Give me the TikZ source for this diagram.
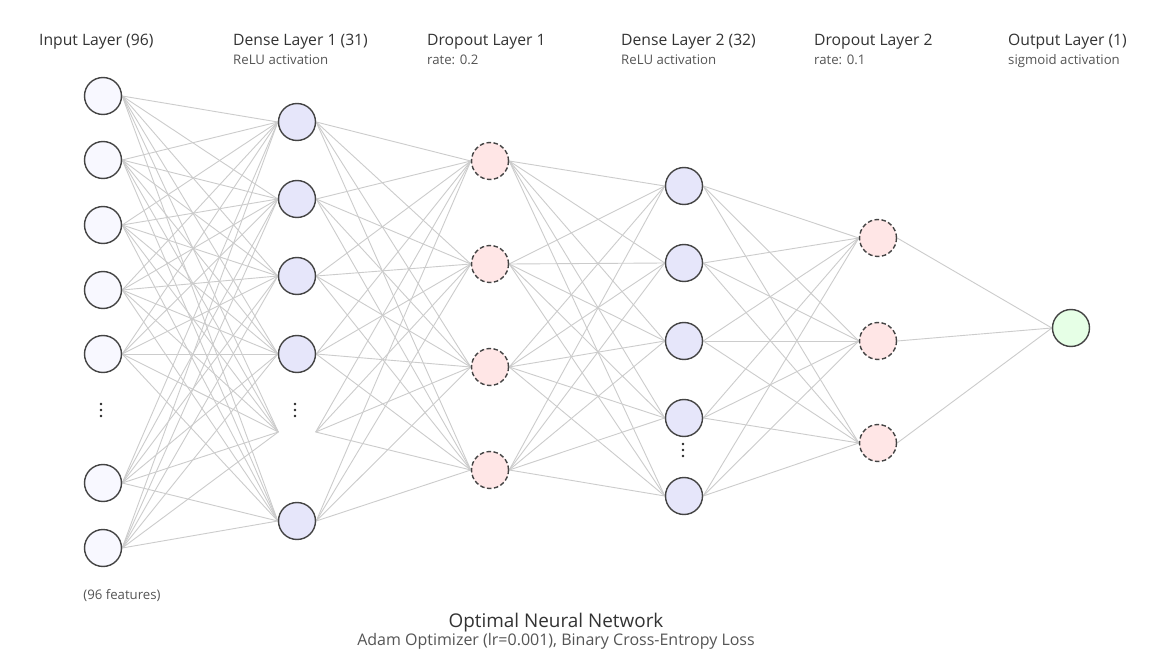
\documentclass[tikz,border=0pt]{standalone}
\usepackage{fontspec}
\setmainfont{Open Sans}
\usetikzlibrary{backgrounds}
\definecolor{edgegray}{HTML}{CCCCCC}
\definecolor{strokegray}{HTML}{444444}
\definecolor{infill}{HTML}{F8F8FF}
\definecolor{densefill}{HTML}{E6E6FA}
\definecolor{dropfill}{HTML}{FFE6E6}
\definecolor{outfill}{HTML}{E6FFE6}
\definecolor{titlecol}{HTML}{333333}
\definecolor{subcol}{HTML}{555555}
\begin{document}
\begin{tikzpicture}[x=1pt,y=-1pt,
  neuron/.style={circle, minimum size=37pt, inner sep=0pt, draw=strokegray, line width=1.4pt},
  innode/.style={fill=infill},
  densenode/.style={fill=densefill},
  dropnode/.style={fill=dropfill, dash pattern=on 4.5pt off 2.5pt},
  outnode/.style={fill=outfill},
  hiddennode/.style={circle, minimum size=37pt, inner sep=0pt},
  edge/.style={draw=edgegray, line width=0.9pt},
  ltitle/.style={anchor=base west, inner sep=0pt, text=titlecol, font=\fontsize{15.7}{18}\selectfont},
  lsub/.style={anchor=base west, inner sep=0pt, text=subcol, font=\fontsize{13.2}{15}\selectfont},
  dotmark/.style={fill=black!85}
]
\useasboundingbox (0,0) rectangle (1170,668);

% input layer
\foreach \y [count=\k] in {96,160,225,290,354,483,548}
  \node[neuron,innode] (i\k) at (103,\y) {};
% dense layer 1 (node 5 is hidden behind the ellipsis)
\foreach \y [count=\k] in {122,199,276,354}
  \node[neuron,densenode] (d\k) at (297,\y) {};
\node[hiddennode] (d5) at (297,432) {};
\node[neuron,densenode] (d6) at (297,521) {};
% dropout layer 1
\foreach \y [count=\k] in {161,264,367,470}
  \node[neuron,dropnode] (p\k) at (490,\y) {};
% dense layer 2
\foreach \y [count=\k] in {186,263,341,418,496}
  \node[neuron,densenode] (e\k) at (684,\y) {};
% dropout layer 2
\foreach \y [count=\k] in {238,341,443}
  \node[neuron,dropnode] (q\k) at (878,\y) {};
% output
\node[neuron,outnode] (o1) at (1071,328) {};

% ellipses
\foreach \x/\y in {101/410, 295/410, 683/450}{
  \fill[dotmark] (\x,\y-6) circle (1.4pt);
  \fill[dotmark] (\x,\y) circle (1.4pt);
  \fill[dotmark] (\x,\y+6) circle (1.4pt);
}

% connections
\begin{scope}[on background layer]
  \fill[white] (0,0) rectangle (1170,668);
  \foreach \a in {1,...,7} \foreach \b in {1,...,6} \draw[edge] (i\a.east) -- (d\b.west);
  \foreach \a in {1,...,6} \foreach \b in {1,...,4} \draw[edge] (d\a.east) -- (p\b.west);
  \foreach \a in {1,...,4} \foreach \b in {1,...,5} \draw[edge] (p\a.east) -- (e\b.west);
  \foreach \a in {1,...,5} \foreach \b in {1,...,3} \draw[edge] (e\a.east) -- (q\b.west);
  \foreach \a in {1,...,3} \draw[edge] (q\a.east) -- (o1.west);
\end{scope}

% layer labels
\node[ltitle] (t1) at (39,46) {Input Layer (96)};
\node[ltitle] (t2) at (233,46) {Dense Layer 1 (31)};
\node[lsub] (s2) at (233,65) {ReLU activation};
\node[ltitle] (t3) at (427,46) {Dropout Layer 1};
\node[lsub] (s3) at (427,65) {rate: 0.2};
\node[ltitle] (t4) at (621,46) {Dense Layer 2 (32)};
\node[lsub] (s4) at (621,65) {ReLU activation};
\node[ltitle] (t5) at (814,46) {Dropout Layer 2};
\node[lsub] (s5) at (814,65) {rate: 0.1};
\node[ltitle] (t6) at (1008,46) {Output Layer (1)};
\node[lsub] (s6) at (1008,65) {sigmoid activation};

\node[inner sep=0pt, anchor=base, text=subcol, font=\fontsize{13.2}{15}\selectfont] (feat) at (122,599) {(96 features)};
\node[inner sep=0pt, anchor=base, text=titlecol, font=\fontsize{18.9}{22}\selectfont] (mt) at (556,627) {Optimal Neural Network};
\node[inner sep=0pt, anchor=base, text=subcol, font=\fontsize{16}{19}\selectfont] (ms) at (556,645) {Adam Optimizer (lr=0.001), Binary Cross-Entropy Loss};
\end{tikzpicture}
\end{document}
